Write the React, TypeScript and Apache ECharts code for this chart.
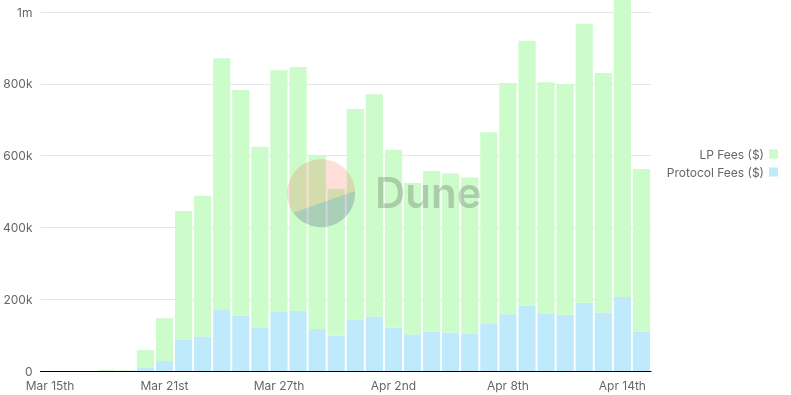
import React, { useEffect, useRef } from "react";
import * as echarts from "echarts";

const categories = [
  "Mar 15th", "Mar 16th", "Mar 17th", "Mar 18th", "Mar 19th", "Mar 20th", "Mar 21st", "Mar 22nd",
  "Mar 23rd", "Mar 24th", "Mar 25th", "Mar 26th", "Mar 27th", "Mar 28th", "Mar 29th", "Mar 30th",
  "Mar 31st", "Apr 1st", "Apr 2nd", "Apr 3rd", "Apr 4th", "Apr 5th", "Apr 6th", "Apr 7th",
  "Apr 8th", "Apr 9th", "Apr 10th", "Apr 11th", "Apr 12th", "Apr 13th", "Apr 14th", "Apr 15th",
];

const protocolFees = [
  0, 0, 0, 500, 500, 9000, 28000, 88000,
  96000, 172000, 154000, 122000, 164000, 167000, 117000, 98000,
  143000, 151000, 121000, 102000, 109000, 107000, 105000, 131000,
  158000, 182000, 159000, 157000, 190000, 163000, 206000, 110000,
];

const lpFees = [
  0, 0, 0, 3000, 2000, 49000, 119000, 358000,
  392000, 699000, 629000, 503000, 674000, 680000, 482000, 409000,
  587000, 620000, 495000, 422000, 448000, 443000, 434000, 534000,
  644000, 738000, 645000, 642000, 777000, 667000, 874000, 453000,
];

const seriesNames = ["LP Fees ($)", "Protocol Fees ($)"];
const yTicks = [0, 200000, 400000, 600000, 800000, 1000000];

const FONT = "Inter, 'Noto Sans', sans-serif";

export default function App() {
  const ref = useRef<HTMLDivElement>(null);
  useEffect(() => {
    if (!ref.current) return;
    echarts.graphic.registerShape(
      "duneTop",
      echarts.graphic.extendPath("M -27.7 19.8 A 34 34 0 1 1 34 -2 Z", {})
    );
    echarts.graphic.registerShape(
      "duneBottom",
      echarts.graphic.extendPath("M -27.7 19.8 A 34 34 0 0 0 34 -2 Z", {})
    );
    const chart = echarts.init(ref.current, null, { renderer: "svg" });
    chart.setOption({
      animation: false,
      textStyle: { fontFamily: FONT },
      grid: { left: 39, right: 140, top: 12, bottom: 24 },
      legend: {
        orient: "vertical",
        right: 8,
        top: 143,
        align: "right",
        itemWidth: 9,
        itemHeight: 9,
        itemGap: 6,
        icon: "rect",
        data: seriesNames,
        textStyle: { color: "#666", fontSize: 12, fontFamily: FONT },
      },
      xAxis: {
        type: "category",
        data: categories,
        axisLine: { lineStyle: { color: "#000", width: 1 } },
        axisTick: { show: false },
        axisLabel: { interval: 5, color: "#666", fontSize: 12, margin: 8, fontFamily: FONT },
      },
      yAxis: {
        type: "value",
        min: 0,
        max: yTicks[yTicks.length - 1],
        interval: 200000,
        axisLine: { show: false },
        axisTick: { show: false },
        splitLine: { lineStyle: { color: "#e6e6e6", width: 1 } },
        axisLabel: {
          color: "#666",
          fontSize: 12,
          margin: 8,
          fontFamily: FONT,
          formatter: (v: number) =>
            v === 0 ? "0" : v >= 1000000 ? v / 1000000 + "m" : v / 1000 + "k",
        },
      },
      series: [
        {
          name: seriesNames[1],
          type: "bar",
          stack: "fees",
          data: protocolFees,
          barCategoryGap: "10%",
          clip: false,
          itemStyle: { color: "#bfeafb" },
        },
        {
          name: seriesNames[0],
          type: "bar",
          stack: "fees",
          data: lpFees,
          barCategoryGap: "10%",
          clip: false,
          itemStyle: { color: "#cbfcc9" },
        },
      ],
      graphic: [
        {
          type: "duneTop",
          x: 321,
          y: 193,
          z: 100,
          silent: true,
          style: { fill: "#f4603e", opacity: 0.2 },
        },
        {
          type: "duneBottom",
          x: 321,
          y: 193,
          z: 100,
          silent: true,
          style: { fill: "#1e1870", opacity: 0.2 },
        },
        {
          type: "text",
          x: 375,
          y: 192,
          z: 100,
          silent: true,
          style: {
            text: "Dune",
            fontSize: 42,
            fontWeight: 600,
            fontFamily: FONT,
            fill: "rgba(60,60,60,0.24)",
            verticalAlign: "middle",
            align: "left",
          },
        },
      ],
    });
    return () => chart.dispose();
  }, []);
  return (
    <div
      ref={ref}
      style={{ position: "fixed", left: 0, top: 0, width: 791, height: 395 }}
    />
  );
}
